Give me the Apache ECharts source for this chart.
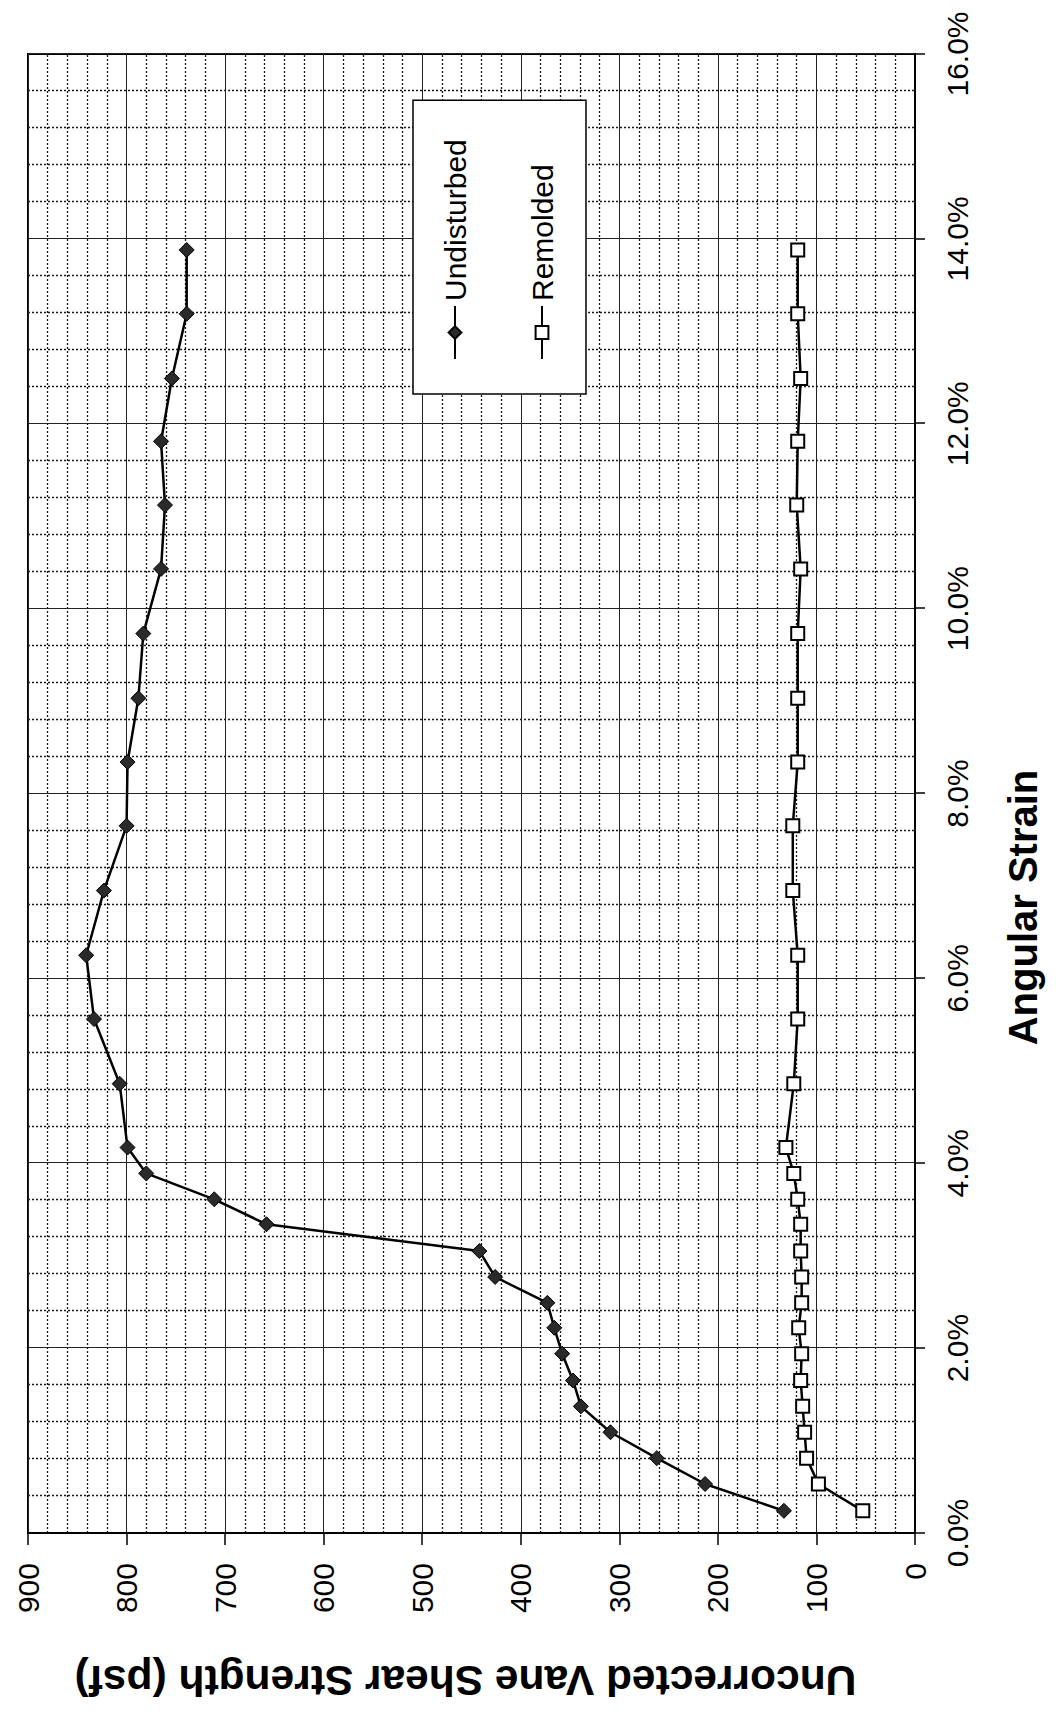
<!DOCTYPE html>
<html>
<head>
<meta charset="utf-8">
<script src="https://cdn.jsdelivr.net/npm/echarts@6/dist/echarts.min.js"></script>
<style>
  html, body { margin: 0; padding: 0; background: #fff; overflow: hidden; }
  #chart {
    position: absolute; left: 0; top: 0;
    width: 1721px; height: 1062px;
    transform-origin: 0 0;
    transform: translateY(1721px) rotate(-90deg);
  }
</style>
</head>
<body>
<div id="chart"></div>
<script>
// Angular strain (%) shared by both series
const strain = [0.24, 0.53, 0.81, 1.09, 1.37, 1.65, 1.94, 2.22, 2.49, 2.77, 3.05, 3.34, 3.61, 3.89, 4.17,
                4.86, 5.56, 6.25, 6.95, 7.65, 8.34, 9.03, 9.73, 10.43, 11.12, 11.81, 12.49, 13.19, 13.88];
// Uncorrected vane shear strength (psf)
const undisturbed = [133, 213, 262, 309, 339, 347, 358, 366, 373, 426, 442, 658, 711, 780, 799,
                     807, 833, 841, 823, 800, 799, 788, 783, 765, 761, 765, 754, 739, 739];
const remolded = [53, 98, 110, 112, 114, 116, 115, 118, 115, 115, 116, 116, 119, 123, 131,
                  123, 119, 119, 124, 124, 119, 119, 119, 116, 120, 119, 116, 119, 119];
const seriesNames = ['Undisturbed', 'Remolded'];
const xTitle = 'Angular Strain';
const yTitle = 'Uncorrected Vane Shear Strength (psf)';

const FONT = '"Liberation Sans", Arial, sans-serif';
const chart = echarts.init(document.getElementById('chart'), null, { renderer: 'svg' });

const lineStyle = { color: '#000', width: 2.5 };

chart.setOption({
  animation: false,
  backgroundColor: '#fff',
  textStyle: { fontFamily: FONT, color: '#000' },
  grid: {
    left: 188, right: 54, top: 28, bottom: 147,
    show: true, borderColor: '#000', borderWidth: 2, backgroundColor: 'transparent'
  },
  legend: {
    data: seriesNames,
    orient: 'vertical',
    left: 1327, top: 413,
    itemWidth: 53, itemHeight: 16, itemGap: 57,
    padding: [27, 39, 29, 34],
    borderColor: '#000', borderWidth: 1.5,
    backgroundColor: '#fff',
    selectedMode: false,
    textStyle: { fontSize: 30, lineHeight: 30, color: '#000', fontFamily: FONT }
  },
  xAxis: {
    type: 'value',
    min: 0, max: 16, interval: 2,
    name: xTitle,
    nameLocation: 'middle',
    nameGap: 88,
    nameTextStyle: { fontSize: 40, fontWeight: 'bold', color: '#000', fontFamily: FONT, padding: [0, 228, 0, 0] },
    axisLine: { show: true, lineStyle: { color: '#000', width: 2 } },
    axisTick: { show: true, inside: false, length: 10, lineStyle: { color: '#000', width: 1.5 } },
    axisLabel: { fontSize: 30, color: '#000', margin: 27, fontFamily: FONT,
                 formatter: v => v.toFixed(1) + '%' },
    splitLine: { show: true, lineStyle: { color: '#222', width: 1 } },
    minorTick: { show: false, splitNumber: 5 },
    minorSplitLine: { show: true, lineStyle: { color: '#1a1a1a', width: 1.3, type: [2, 2] } }
  },
  yAxis: {
    type: 'value',
    min: 0, max: 900, interval: 100,
    name: yTitle,
    nameLocation: 'middle',
    nameRotate: 90,
    nameGap: 126,
    nameTextStyle: { fontSize: 42.5, fontWeight: 'bold', color: '#000', fontFamily: FONT, padding: [0, 0, 0, 12] },
    axisLine: { show: true, lineStyle: { color: '#000', width: 2 } },
    axisTick: { show: true, inside: false, length: 12, lineStyle: { color: '#000', width: 1.5 } },
    axisLabel: { fontSize: 30, color: '#000', margin: 30, fontFamily: FONT },
    splitLine: { show: true, lineStyle: { color: '#222', width: 1 } },
    minorTick: { show: false, splitNumber: 5 },
    minorSplitLine: { show: true, lineStyle: { color: '#1a1a1a', width: 1.3, type: [2, 2] } }
  },
  series: [
    {
      name: seriesNames[0],
      type: 'line',
      data: strain.map((s, i) => [s, undisturbed[i]]),
      symbol: 'diamond',
      symbolSize: 15,
      lineStyle: lineStyle,
      itemStyle: { color: '#2a2a2a', borderColor: '#000', borderWidth: 1 },
      z: 3
    },
    {
      name: seriesNames[1],
      type: 'line',
      data: strain.map((s, i) => [s, remolded[i]]),
      symbol: 'rect',
      symbolSize: 13,
      lineStyle: lineStyle,
      itemStyle: { color: '#fff', borderColor: '#000', borderWidth: 2 },
      z: 3
    }
  ]
});
</script>
</body>
</html>
